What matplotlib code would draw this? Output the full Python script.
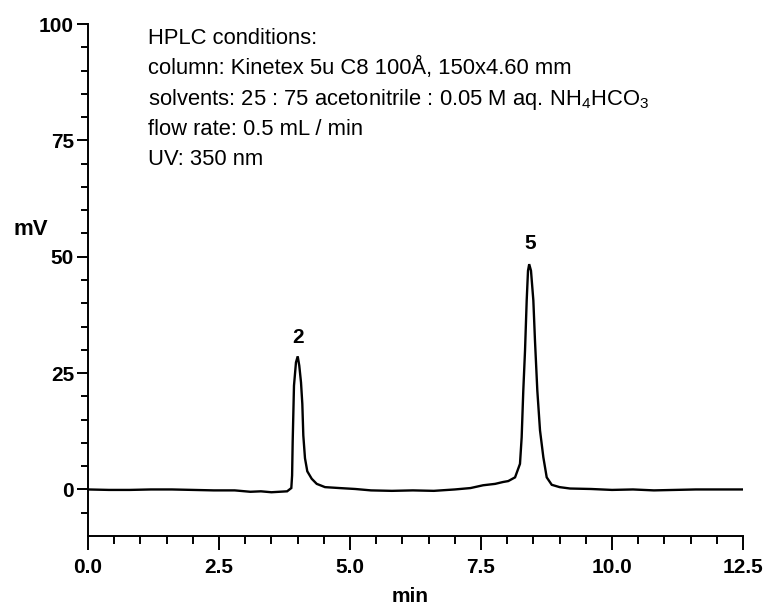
import matplotlib
matplotlib.use("Agg")
import matplotlib.pyplot as plt
from matplotlib.ticker import FixedLocator, FuncFormatter
import numpy as np

plt.rcParams['font.family'] = ['Liberation Sans', 'DejaVu Sans']
plt.rcParams['mathtext.fontset'] = 'custom'
plt.rcParams['mathtext.rm'] = 'Liberation Sans'
plt.rcParams['mathtext.it'] = 'Liberation Sans:italic'
plt.rcParams['mathtext.bf'] = 'Liberation Sans:bold'

# chromatogram trace (min, mV)
time_min = [0.0, 0.4, 0.8, 1.2, 1.6, 2.0, 2.4, 2.8, 3.1, 3.3, 3.5, 3.65, 3.8,
            3.88, 3.895, 3.906, 3.931, 3.969, 4.002, 4.032, 4.065, 4.090,
            4.109, 4.141, 4.185, 4.269, 4.365, 4.523, 4.8, 5.1, 5.4, 5.8,
            6.2, 6.6, 7.0, 7.3, 7.54, 7.77, 7.92, 8.02, 8.15, 8.244, 8.276,
            8.307, 8.340, 8.372, 8.397, 8.42, 8.454, 8.499, 8.53, 8.575,
            8.626, 8.69, 8.754, 8.85, 9.0, 9.2, 9.6, 10.0, 10.4, 10.8, 11.2,
            11.6, 12.0, 12.5]
signal_mv = [0.0, -0.1, -0.1, 0.0, 0.0, -0.1, -0.2, -0.2, -0.5, -0.4, -0.6,
             -0.5, -0.4, 0.3, 3.0, 10.2, 22.3, 27.3, 28.6, 26.6, 23.0, 18.4,
             11.6, 6.7, 3.9, 2.3, 1.2, 0.5, 0.3, 0.1, -0.2, -0.3, -0.2,
             -0.3, 0.0, 0.3, 0.9, 1.2, 1.6, 1.8, 2.6, 5.5, 11.2, 21.2, 29.8,
             40.6, 47.0, 48.4, 47.0, 40.6, 32.0, 21.2, 12.7, 6.9, 2.6, 1.0,
             0.5, 0.2, 0.1, -0.1, 0.0, -0.2, -0.1, 0.0, 0.0, 0.0]

peak_labels = ["2", "5"]
peak_label_t = [4.01, 8.44]
peak_label_mv = [32.6, 52.8]

x_major = [0.0, 2.5, 5.0, 7.5, 10.0, 12.5]
y_major = [0, 25, 50, 75, 100]

conditions = [
    "HPLC conditions:",
    "column: Kinetex 5u C8 100Å, 150x4.60 mm",
    r"solvents: 25 : 75 acetonitrile : 0.05 M aq. NH$_4$HCO$_3$",
    "flow rate: 0.5 mL / min",
    "UV: 350 nm",
]

fig = plt.figure(figsize=(7.7, 6.1), dpi=100)
ax = fig.add_axes([88/770, 1-536/610, 655/770, 512/610])

ax.plot(time_min, signal_mv, color='black', lw=1.7, solid_joinstyle='miter')

ax.set_xlim(0, 12.5)
ax.set_ylim(-10, 100)
for s in ['top', 'right']:
    ax.spines[s].set_visible(False)
for s in ['left', 'bottom']:
    ax.spines[s].set_linewidth(1.4)

ax.xaxis.set_major_locator(FixedLocator(x_major))
ax.xaxis.set_minor_locator(FixedLocator(np.arange(0.5, 12.5, 0.5)))
ax.yaxis.set_major_locator(FixedLocator(y_major))
ax.yaxis.set_minor_locator(FixedLocator(np.arange(-5, 100, 5)))
ax.xaxis.set_major_formatter(FuncFormatter(lambda v, p: f"{v:.1f}"))
ax.yaxis.set_major_formatter(FuncFormatter(lambda v, p: f"{int(v)}"))

ax.tick_params(axis='x', which='major', direction='out', length=10, width=1.4, pad=6, labelsize=15)
ax.tick_params(axis='x', which='minor', direction='out', length=6, width=1.4)
ax.tick_params(axis='y', which='major', direction='out', length=8, width=1.4, pad=2, labelsize=15)
ax.tick_params(axis='y', which='minor', direction='out', length=5, width=1.4)
for lab in ax.get_xticklabels() + ax.get_yticklabels():
    lab.set_fontweight('bold')

ax.set_xlabel("min", fontsize=15, fontweight='bold')
ax.xaxis.set_label_coords(0.492, -0.119)
ax.xaxis.label.set_va('center')
ax.set_ylabel("mV", fontsize=16, fontweight='bold', rotation=0)
ax.yaxis.set_label_coords(-0.087, 0.598)
ax.yaxis.label.set_va('center')
ax.yaxis.label.set_ha('center')

for lab, t, mv in zip(peak_labels, peak_label_t, peak_label_mv):
    ax.text(t, mv, lab, ha='center', va='center', fontsize=15, fontweight='bold')

baselines = [95.8, 89.2, 82.5, 76.1, 69.7]
for line, yb in zip(conditions, baselines):
    ax.text(1.15, yb, line, ha='left', va='baseline', fontsize=15.8)

fig.savefig("out.png", dpi=100)
